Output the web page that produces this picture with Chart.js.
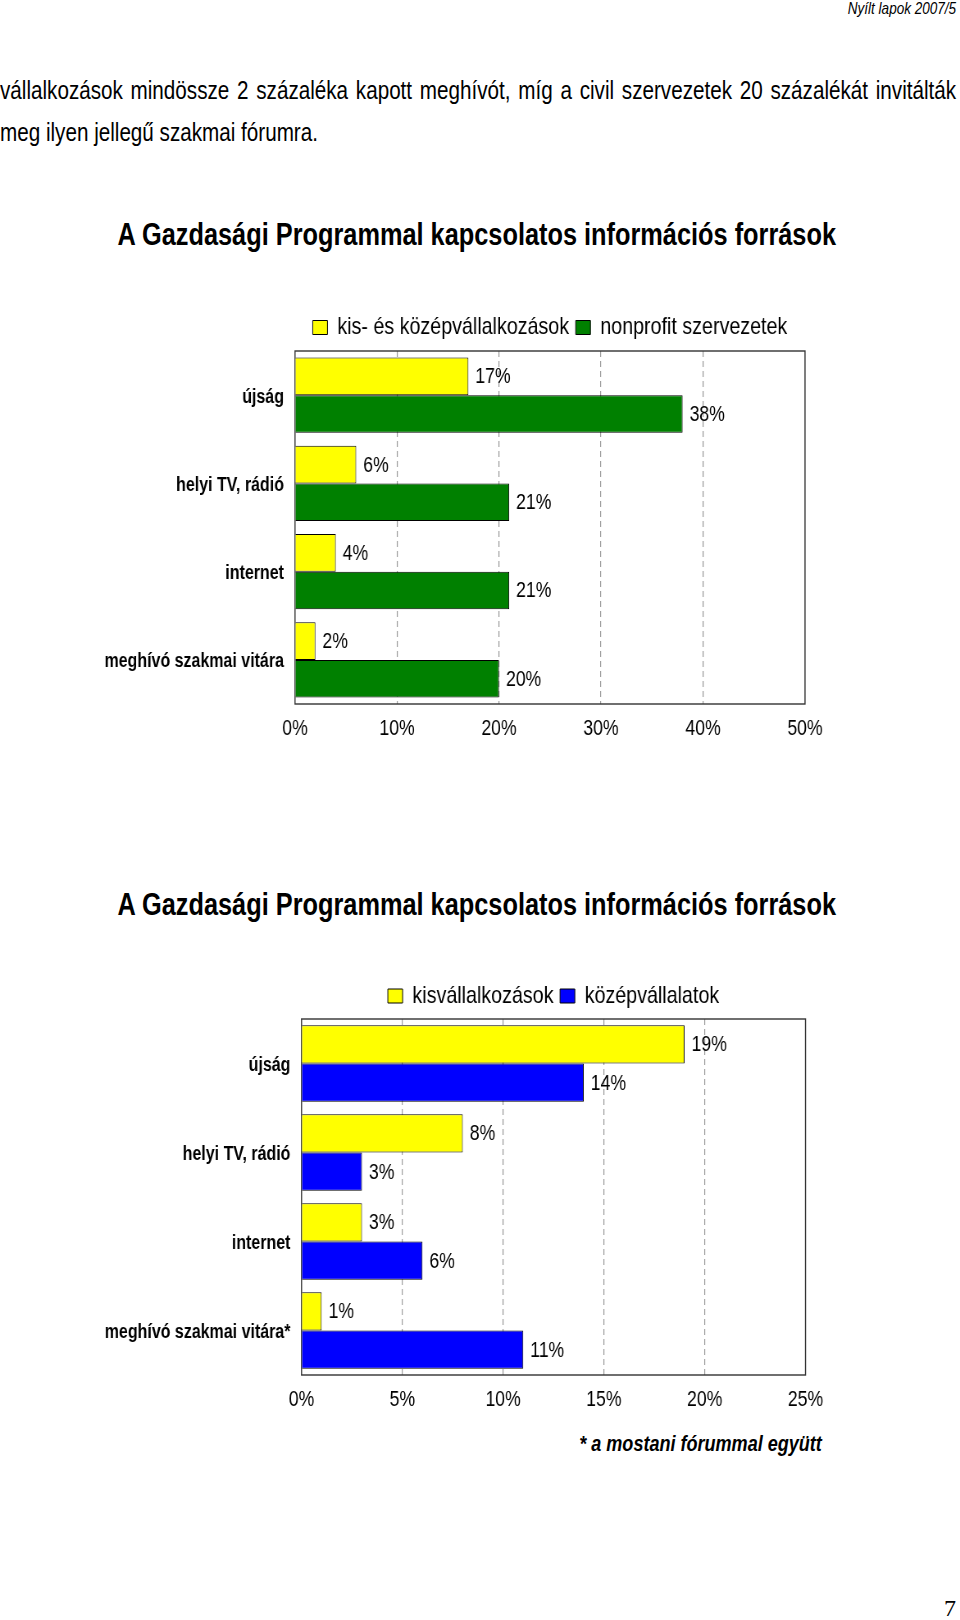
<!DOCTYPE html>
<html>
<head>
<meta charset="utf-8">
<script src="https://cdn.jsdelivr.net/npm/chart.js@4.4.1/dist/chart.umd.min.js"></script>
<style>
  html, body { margin: 0; padding: 0; background: #fff; }
  body { width: 960px; height: 1620px; position: relative; overflow: hidden;
         font-family: 'Liberation Sans', Arial, sans-serif; color: #000; }
  .abs { position: absolute; white-space: nowrap; }
  .narrowL { transform: scaleX(0.82); transform-origin: left top; }
  .narrowR { transform: scaleX(0.82); transform-origin: right top; }
  #hdr { right: 4px; top: 0; font-style: italic; font-size: 16.5px; line-height: 17px; }
  .para { left: 0; width: 1166px; font-size: 25.2px; line-height: 42px; }
  #p1 { top: 69px; text-align: justify; text-align-last: justify; }
  #p2 { top: 111px; text-align: left; }
  .title { left: 0; width: 1163px; text-align: center; font-weight: bold; font-size: 30.9px; line-height: 40px; }
  #t1 { top: 215px; }
  #t2 { top: 885px; }
  #foot { right: 138px; top: 1431px; font-weight: bold; font-style: italic; font-size: 22px; line-height: 26px; }
  #pg { right: 4px; top: 1596px; font-family: 'Liberation Serif', 'DejaVu Serif', serif; font-size: 24px; line-height: 24px; }
  canvas { position: absolute; left: 0; }
</style>
</head>
<body>
<div id="hdr" class="abs narrowR">Nyílt lapok 2007/5</div>
<div id="p1" class="abs para narrowL">vállalkozások mindössze 2 százaléka kapott meghívót, míg a civil szervezetek 20 százalékát invitálták</div>
<div id="p2" class="abs para narrowL">meg ilyen jellegű szakmai fórumra.</div>
<div id="t1" class="abs title narrowL">A Gazdasági Programmal kapcsolatos információs források</div>
<canvas id="c1" width="1171" height="450" style="top:300px; width:960px; height:450px"></canvas>
<div id="t2" class="abs title narrowL">A Gazdasági Programmal kapcsolatos információs források</div>
<canvas id="c2" width="1171" height="453" style="top:968px; width:960px; height:453px"></canvas>
<div id="foot" class="abs narrowR">* a mostani fórummal együtt</div>
<div id="pg" class="abs">7</div>
<script>
// ---- data ----
const categories1 = ['újság', 'helyi TV, rádió', 'internet', 'meghívó szakmai vitára'];
const seriesKkv = [17, 6, 4, 2];
const seriesNonprofit = [38, 21, 21, 20];
const ticks1 = [0, 10, 20, 30, 40, 50];

const categories2 = ['újság', 'helyi TV, rádió', 'internet', 'meghívó szakmai vitára*'];
const seriesKis = [19, 8, 3, 1];
const seriesKozep = [14, 3, 6, 11];
const ticks2 = [0, 5, 10, 15, 20, 25];

// canvas is drawn 1171 units wide and shown 960px wide (narrow-font look)
const SX = 960 / 1171;
const FONT = "'Liberation Sans', Arial, sans-serif";
const LEGEND_FONT = 24, LEGEND_PAD = 8;

const valueLabels = {
  id: 'valueLabels',
  afterDatasetsDraw(chart) {
    const ctx = chart.ctx;
    ctx.save();
    ctx.font = '21.5px ' + FONT;
    ctx.fillStyle = '#000';
    ctx.textBaseline = 'middle';
    ctx.textAlign = 'left';
    chart.data.datasets.forEach((ds, i) => {
      chart.getDatasetMeta(i).data.forEach((el, j) => {
        ctx.fillText(ds.data[j] + '%', el.x + 8.5, el.y + 1);
      });
    });
    ctx.restore();
  }
};

const frame = {
  id: 'frame',
  beforeDatasetsDraw(chart) {
    const a = chart.chartArea, ctx = chart.ctx;
    ctx.save();
    ctx.strokeStyle = '#333';
    ctx.lineWidth = 1.4;
    ctx.strokeRect(a.left, a.top, a.right - a.left, a.bottom - a.top);
    ctx.restore();
  }
};

// place the legend row so its centre sits at a chosen canvas y
const legendPlace = {
  id: 'legendPlace',
  afterLayout(chart, args, opts) {
    const lg = chart.legend;
    if (!lg) return;
    const h = lg.bottom - lg.top;
    const top = opts.center - LEGEND_PAD - LEGEND_FONT / 2;
    lg.top = top;
    lg.bottom = top + h;
  }
};

function makeChart(id, cats, s1, s2, names, colors, ticks, geo) {
  const canvas = document.getElementById(id);
  const H = canvas.height;
  const W = canvas.width;
  const left = geo.left / SX, right = geo.right / SX;
  const cfg = {
    type: 'bar',
    data: {
      labels: cats,
      datasets: [
        { label: names[0], data: s1, backgroundColor: colors[0], borderColor: '#000', borderWidth: 1,
          categoryPercentage: geo.cat, barPercentage: 1.0 },
        { label: names[1], data: s2, backgroundColor: colors[1], borderColor: '#000', borderWidth: 1,
          categoryPercentage: geo.cat, barPercentage: 1.0 }
      ]
    },
    options: {
      indexAxis: 'y',
      responsive: false,
      animation: false,
      devicePixelRatio: 1,
      layout: { padding: { left: 0, right: W - right, top: 0, bottom: 0 } },
      plugins: {
        title: { display: false },
        tooltip: { enabled: false },
        legendPlace: { center: geo.legendY },
        legend: {
          display: true,
          position: 'top',
          fullSize: false,
          labels: {
            color: '#000',
            font: { family: FONT, size: LEGEND_FONT },
            boxWidth: 18,
            boxHeight: 14,
            padding: LEGEND_PAD
          }
        }
      },
      scales: {
        x: {
          min: ticks[0],
          max: ticks[ticks.length - 1],
          afterBuildTicks: (scale) => { scale.ticks = ticks.map(v => ({ value: v })); },
          afterFit: (scale) => { scale.height = H - geo.bottom; },
          ticks: {
            color: '#000',
            font: { family: FONT, size: 21.5 },
            padding: 12,
            maxRotation: 0,
            callback: (v) => v + '%'
          },
          grid: {
            drawTicks: false,
            color: (c) => (c.index === 0 || c.index === ticks.length - 1) ? 'rgba(0,0,0,0)' : '#9a9a9a',
            lineWidth: 1.2
          },
          border: { display: false, dash: [6, 4] }
        },
        y: {
          afterFit: (scale) => { scale.width = left; },
          ticks: {
            color: '#000',
            font: { family: FONT, size: 19.5, weight: 'bold' },
            padding: 13.5,
            labelOffset: 2
          },
          grid: { display: false, drawTicks: false },
          border: { display: false }
        }
      }
    },
    plugins: [frame, valueLabels, legendPlace]
  };
  const chart = new Chart(canvas, cfg);
  const dy = geo.top - chart.chartArea.top;
  if (Math.abs(dy) > 0.1) {
    chart.options.layout.padding.top += dy;
    chart.update('none');
  }
  return chart;
}

makeChart('c1', categories1, seriesKkv, seriesNonprofit,
  ['kis- és középvállalkozások', 'nonprofit szervezetek'], ['#ffff00', '#008000'], ticks1,
  { left: 295, right: 805, top: 51, bottom: 404, cat: 0.85, legendY: 27.5 });

makeChart('c2', categories2, seriesKis, seriesKozep,
  ['kisvállalkozások', 'középvállalatok'], ['#ffff00', '#0000ff'], ticks2,
  { left: 301.5, right: 805.5, top: 51, bottom: 407, cat: 0.86, legendY: 28 });
</script>
</body>
</html>
